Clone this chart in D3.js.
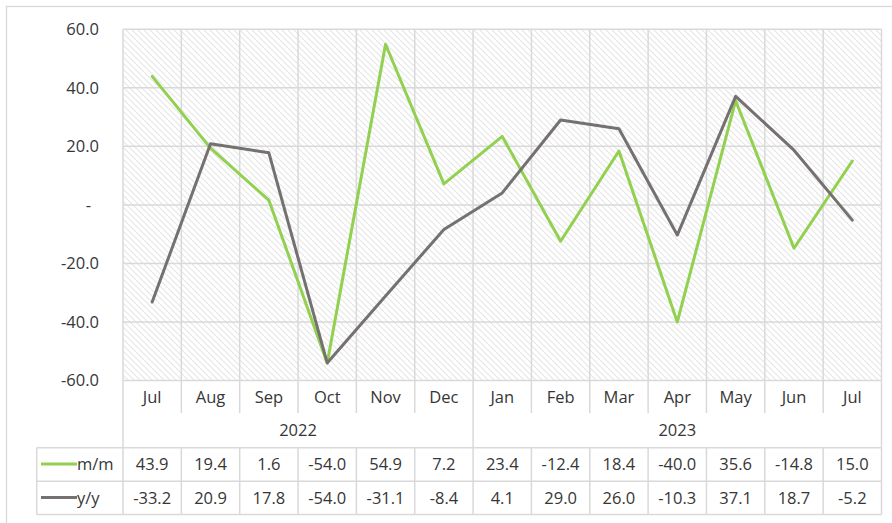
<!DOCTYPE html>
<html>
<head>
<meta charset="utf-8">
<script src="https://cdn.jsdelivr.net/npm/d3@7"></script>
<style>
  body { margin: 0; background: #fff; }
  text { font-family: "Open Sans", sans-serif; fill: #363636; }
</style>
</head>
<body>
<div id="chart"></div>
<script>
const months = ['Jul', 'Aug', 'Sep', 'Oct', 'Nov', 'Dec', 'Jan', 'Feb', 'Mar', 'Apr', 'May', 'Jun', 'Jul'];
const years = [
    { label: '2022', from: 0, to: 6 },
    { label: '2023', from: 6, to: 13 }
];
const mom = [43.9, 19.4, 1.6, -54.0, 54.9, 7.2, 23.4, -12.4, 18.4, -40.0, 35.6, -14.8, 15.0];
const yoy = [-33.2, 20.9, 17.8, -54.0, -31.1, -8.4, 4.1, 29.0, 26.0, -10.3, 37.1, 18.7, -5.2];
const yTicks = [-60, -40, -20, 0, 20, 40, 60];
const seriesNames = ['m/m', 'y/y'];

const svgWidth = 892;
const svgHeight = 523;

const plot = { left: 123, right: 881.5, top: 29.3, bottom: 380.5 };
const rows = { month: 413, year: 447.7, mom: 481.3, yoy: 514.5 };
const legendLeft = 36.7;
const gridColor = '#d9d9d9';
const colors = ['#92d050', '#767171'];
const fontSize = 16.5;

// plain hyphen minus, like the source spreadsheet
const fmt = d3.formatLocale({ decimal: '.', thousands: ',', grouping: [3], currency: ['', ''], minus: '-' })
    .format('.1f');

const svg = d3.select('#chart')
    .append('svg')
    .attr('width', svgWidth)
    .attr('height', svgHeight);

// hatch fill for the plot area
const pattern = svg.append('defs')
    .append('pattern')
    .attr('id', 'hatch')
    .attr('patternUnits', 'userSpaceOnUse')
    .attr('width', 6)
    .attr('height', 6);

pattern.append('path')
    .attr('d', 'M-1,-1 L7,7 M-1,5 L1,7 M5,-1 L7,1')
    .attr('stroke', '#e6e6e6')
    .attr('stroke-width', 1.2);

// outer chart border (only top/left visible)
svg.append('rect')
    .attr('x', 6.5)
    .attr('y', 6.5)
    .attr('width', 920)
    .attr('height', 540)
    .attr('fill', 'none')
    .attr('stroke', gridColor)
    .attr('stroke-width', 1.3);

const idx = months.map((d, i) => i);

const xScale = d3.scaleBand()
    .domain(idx)
    .range([plot.left, plot.right])
    .padding(0);

const yScale = d3.scaleLinear()
    .domain([-60, 60])
    .range([plot.bottom, plot.top]);

const bw = xScale.bandwidth();
const xCenter = i => xScale(i) + bw / 2;
const edges = idx.map(i => xScale(i)).concat([plot.right]);

svg.append('rect')
    .attr('x', plot.left)
    .attr('y', plot.top)
    .attr('width', plot.right - plot.left)
    .attr('height', plot.bottom - plot.top)
    .attr('fill', 'url(#hatch)');

const grid = svg.append('g')
    .attr('stroke', gridColor)
    .attr('stroke-width', 1.5);

// horizontal gridlines
grid.selectAll('line.h')
    .data(yTicks)
    .join('line')
    .attr('class', 'h')
    .attr('x1', plot.left)
    .attr('x2', plot.right)
    .attr('y1', d => yScale(d))
    .attr('y2', d => yScale(d));

// vertical gridlines, running down through the month row
grid.selectAll('line.v')
    .data(edges)
    .join('line')
    .attr('class', 'v')
    .attr('x1', d => d)
    .attr('x2', d => d)
    .attr('y1', plot.top)
    .attr('y2', (d, i) => (i === 0 || i === edges.length - 1) ? rows.year : rows.month);

// year separators
grid.selectAll('line.yr')
    .data(years.slice(1))
    .join('line')
    .attr('class', 'yr')
    .attr('x1', d => xScale(d.from))
    .attr('x2', d => xScale(d.from))
    .attr('y1', rows.month)
    .attr('y2', rows.year);

// data table lines
grid.selectAll('line.th')
    .data([rows.year, rows.mom, rows.yoy])
    .join('line')
    .attr('class', 'th')
    .attr('x1', legendLeft)
    .attr('x2', plot.right)
    .attr('y1', d => d)
    .attr('y2', d => d);

grid.selectAll('line.tv')
    .data([legendLeft].concat(edges))
    .join('line')
    .attr('class', 'tv')
    .attr('x1', d => d)
    .attr('x2', d => d)
    .attr('y1', rows.year)
    .attr('y2', rows.yoy);

// y axis labels
svg.append('g')
    .selectAll('text')
    .data(yTicks)
    .join('text')
    .attr('x', d => d === 0 ? 91 : 99)
    .attr('y', d => yScale(d))
    .attr('dy', '0.35em')
    .attr('text-anchor', 'end')
    .attr('font-size', fontSize)
    .text(d => d === 0 ? '-' : fmt(d));

// month labels
svg.append('g')
    .selectAll('text')
    .data(months)
    .join('text')
    .attr('x', (d, i) => xCenter(i))
    .attr('y', (plot.bottom + rows.month) / 2)
    .attr('dy', '0.35em')
    .attr('text-anchor', 'middle')
    .attr('font-size', fontSize)
    .text(d => d);

// year labels
svg.append('g')
    .selectAll('text')
    .data(years)
    .join('text')
    .attr('x', d => (xScale(d.from) + (d.to < months.length ? xScale(d.to) : plot.right)) / 2)
    .attr('y', (rows.month + rows.year) / 2)
    .attr('dy', '0.35em')
    .attr('text-anchor', 'middle')
    .attr('font-size', fontSize)
    .text(d => d.label);

// lines
const line = d3.line()
    .x((d, i) => xCenter(i))
    .y(d => yScale(d));

[mom, yoy].forEach((values, s) => {
    svg.append('path')
        .datum(values)
        .attr('d', line)
        .attr('fill', 'none')
        .attr('stroke', colors[s])
        .attr('stroke-width', 3)
        .attr('stroke-linejoin', 'round')
        .attr('stroke-linecap', 'round');
});

// table rows with legend keys
const tableRows = [
    { name: seriesNames[0], values: mom, top: rows.year, bottom: rows.mom, color: colors[0] },
    { name: seriesNames[1], values: yoy, top: rows.mom, bottom: rows.yoy, color: colors[1] }
];

tableRows.forEach(r => {
    const cy = (r.top + r.bottom) / 2;
    const g = svg.append('g');

    g.append('line')
        .attr('x1', 41)
        .attr('x2', 77)
        .attr('y1', cy - 0.5)
        .attr('y2', cy - 0.5)
        .attr('stroke', r.color)
        .attr('stroke-width', 3);

    g.append('text')
        .attr('x', 77)
        .attr('y', cy)
        .attr('dy', '0.35em')
        .attr('font-size', fontSize)
        .text(r.name);

    g.selectAll('text.val')
        .data(r.values)
        .join('text')
        .attr('class', 'val')
        .attr('x', (d, i) => xCenter(i))
        .attr('y', cy)
        .attr('dy', '0.35em')
        .attr('text-anchor', 'middle')
        .attr('font-size', fontSize)
        .text(d => fmt(d));
});
</script>
</body>
</html>
